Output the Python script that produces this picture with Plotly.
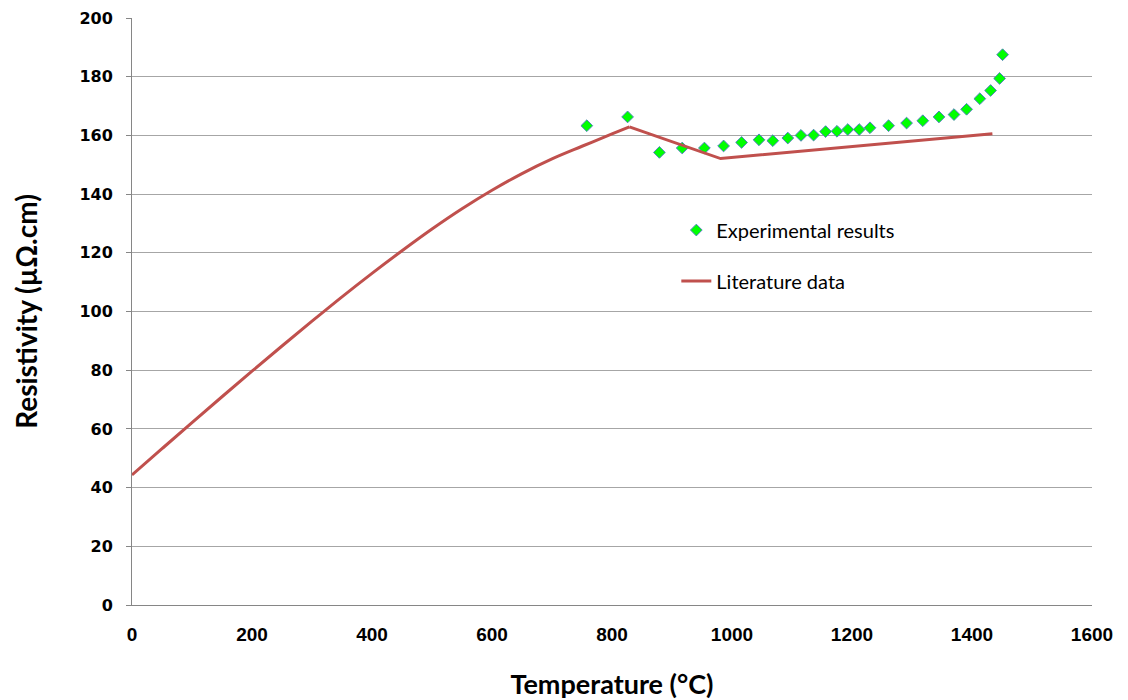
import plotly.graph_objects as go

# Experimental resistivity measurements
exp_temp = [758, 826, 879, 917, 954, 986, 1016, 1045, 1068, 1093, 1115, 1136, 1156,
            1175, 1193, 1212, 1230, 1261, 1291, 1318, 1345, 1370, 1391, 1413, 1431,
            1446, 1451]
exp_rho = [163.3, 166.3, 154.2, 155.7, 155.7, 156.4, 157.6, 158.5, 158.2, 159.1, 160.0,
           160.1, 161.3, 161.4, 162.0, 162.0, 162.6, 163.3, 164.2, 165.0, 166.3, 167.1,
           168.9, 172.5, 175.3, 179.4, 187.5]

# Literature resistivity: smooth rise up to the peak, then straight segments
lit_temp_rise = [0, 50, 100, 150, 200, 250, 300, 350, 400, 450, 500, 550, 600, 650,
                 700, 750, 800, 829]
lit_rho_rise = [44.3, 53.25, 62.15, 70.95, 79.65, 88.25, 96.7, 105.0, 113.0, 120.7,
                128.1, 135.0, 141.3, 147.0, 152.0, 156.3, 160.5, 162.9]
lit_temp_high = [829, 981, 1434]
lit_rho_high = [162.9, 152.1, 160.6]

x_ticks = [0, 200, 400, 600, 800, 1000, 1200, 1400, 1600]
y_ticks = [0, 20, 40, 60, 80, 100, 120, 140, 160, 180, 200]

lit_line = dict(color="#c0504d", width=3)

fig = go.Figure()
fig.add_trace(go.Scatter(
    x=exp_temp, y=exp_rho, mode="markers", name="Experimental results",
    legendgroup="a",
    marker=dict(symbol="diamond", size=9, color="#00ff00",
                line=dict(color="#4f81bd", width=1)),
))
fig.add_trace(go.Scatter(
    x=lit_temp_rise, y=lit_rho_rise, mode="lines", name="Literature data",
    legendgroup="b", showlegend=False,
    line=dict(shape="spline", smoothing=1.0, **lit_line),
))
fig.add_trace(go.Scatter(
    x=lit_temp_high, y=lit_rho_high, mode="lines", name="Literature data",
    legendgroup="b",
    line=lit_line,
))

tick_font_y = dict(family="DejaVu Sans", size=16, color="#000000", weight="bold")
tick_font_x = dict(family="Liberation Sans Narrow, Liberation Sans", size=19,
                   color="#000000", weight="bold")

fig.update_layout(
    width=1128, height=700,
    margin=dict(l=132, r=36, t=18, b=95),
    plot_bgcolor="white", paper_bgcolor="white",
    showlegend=True,
    legend=dict(x=0.567, y=0.672, xanchor="left", yanchor="top",
                bgcolor="rgba(0,0,0,0)", tracegroupgap=22,
                font=dict(family="Lato", size=20, color="#000000")),
    xaxis=dict(
        range=[0, 1600], tickvals=x_ticks, ticktext=[str(v) for v in x_ticks],
        showgrid=False, zeroline=False, showline=True, linecolor="#868686",
        linewidth=1, ticks="", tickfont=tick_font_x, ticklabelstandoff=12,
        automargin=False,
        title=dict(text="Temperature (°C)", standoff=32,
                   font=dict(family="Lato", size=27, color="#000000", weight="bold")),
    ),
    yaxis=dict(
        range=[0, 200], tickvals=y_ticks, ticktext=[str(v) for v in y_ticks],
        showgrid=True, gridcolor="#a6a6a6", gridwidth=1, zeroline=False,
        showline=True, linecolor="#868686", linewidth=1,
        ticks="outside", ticklen=5, tickcolor="#868686", tickfont=tick_font_y,
        ticklabelstandoff=10, automargin=False,
        title=dict(text="Resistivity (µΩ.cm)", standoff=33,
                   font=dict(family="Lato", size=28, color="#000000", weight="bold")),
    ),
)

fig.write_html("out.html")
